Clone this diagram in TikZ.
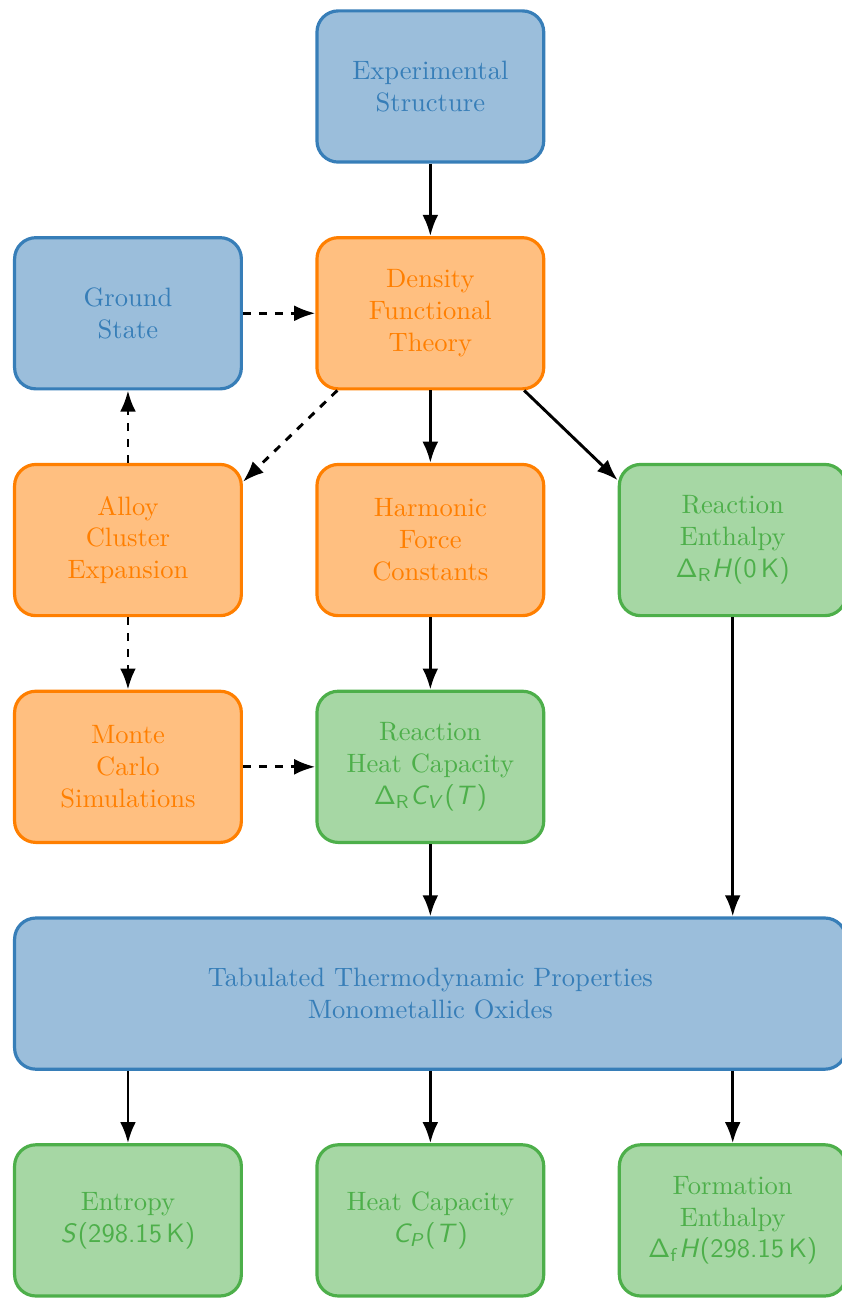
\documentclass[tikz,border=0pt]{standalone}
\usetikzlibrary{arrows.meta}
\DeclareMathAlphabet{\mathsfup}{OT1}{cmss}{m}{n}
\DeclareMathAlphabet{\mathsfit}{OT1}{cmss}{m}{sl}
\definecolor{cblue}{HTML}{377EB8}
\definecolor{corange}{HTML}{FF7F00}
\definecolor{cgreen}{HTML}{4DAF4A}
\tikzset{
  box/.style={draw, line width=1.2pt, rounded corners=8pt, minimum width=3cm,
    minimum height=2cm, align=center, inner sep=2pt},
  bluebox/.style={box, draw=cblue, fill=cblue!50, text=cblue},
  orangebox/.style={box, draw=corange, fill=corange!50, text=corange},
  greenbox/.style={box, draw=cgreen, fill=cgreen!50, text=cgreen},
  arr/.style={-{Latex}, line width=1.1pt, black},
  darr/.style={arr, dashed},
}
\begin{document}
\begin{tikzpicture}
\useasboundingbox (-1.693,1.144) rectangle (9.444,-16.04);
\node[bluebox] (exp) at (4,0) {Experimental\\Structure};
\node[bluebox] (gs) at (0,-3) {Ground\\State};
\node[orangebox] (dft) at (4,-3) {Density\\Functional\\Theory};
\node[orangebox] (ace) at (0,-6) {Alloy\\Cluster\\Expansion};
\node[orangebox] (hfc) at (4,-6) {Harmonic\\Force\\Constants};
\node[greenbox] (rh) at (8,-6) {Reaction\\Enthalpy\\$\mathsfup{\Delta}_{\mathsfup{R}}\mathsfit{H}$\textsf{(0\,K)}};
\node[orangebox] (mc) at (0,-9) {Monte\\Carlo\\Simulations};
\node[greenbox] (rhc) at (4,-9) {Reaction\\Heat Capacity\\$\mathsfup{\Delta}_{\mathsfup{R}}\mathsfit{C}_{\mathsfit{V}}$\textsf{(}$\mathsfit{T}$\textsf{)}};
\node[bluebox, minimum width=11cm] (tab) at (4,-12) {Tabulated Thermodynamic Properties\\Monometallic Oxides};
\node[greenbox] (ent) at (0,-15) {Entropy\\$\mathsfit{S}$\textsf{(298.15\,K)}};
\node[greenbox] (hc) at (4,-15) {Heat Capacity\\$\mathsfit{C}_{\mathsfit{P}}$\textsf{(}$\mathsfit{T}$\textsf{)}};
\node[greenbox] (fe) at (8,-15) {Formation\\Enthalpy\\$\mathsfup{\Delta}_{\mathsfup{f}}\mathsfit{H}$\textsf{(298.15\,K)}};

\draw[arr] (exp) -- (dft);
\draw[darr] (gs) -- (dft);
\draw[darr] (ace) -- (gs);
\draw[darr] ([xshift=0.29cm]dft.south west) -- ([yshift=-0.25cm]ace.north east);
\draw[arr] (dft) -- (hfc);
\draw[arr] ([xshift=-0.28cm]dft.south east) -- ([yshift=-0.23cm]rh.north west);
\draw[darr] (ace) -- (mc);
\draw[arr] (hfc) -- (rhc);
\draw[darr] (mc) -- (rhc);
\draw[arr] (rhc) -- (tab.north -| rhc);
\draw[arr] (rh) -- (tab.north -| rh);
\draw[arr] (tab.south -| ent) -- (ent);
\draw[arr] (tab.south -| hc) -- (hc);
\draw[arr] (tab.south -| fe) -- (fe);
\end{tikzpicture}
\end{document}
